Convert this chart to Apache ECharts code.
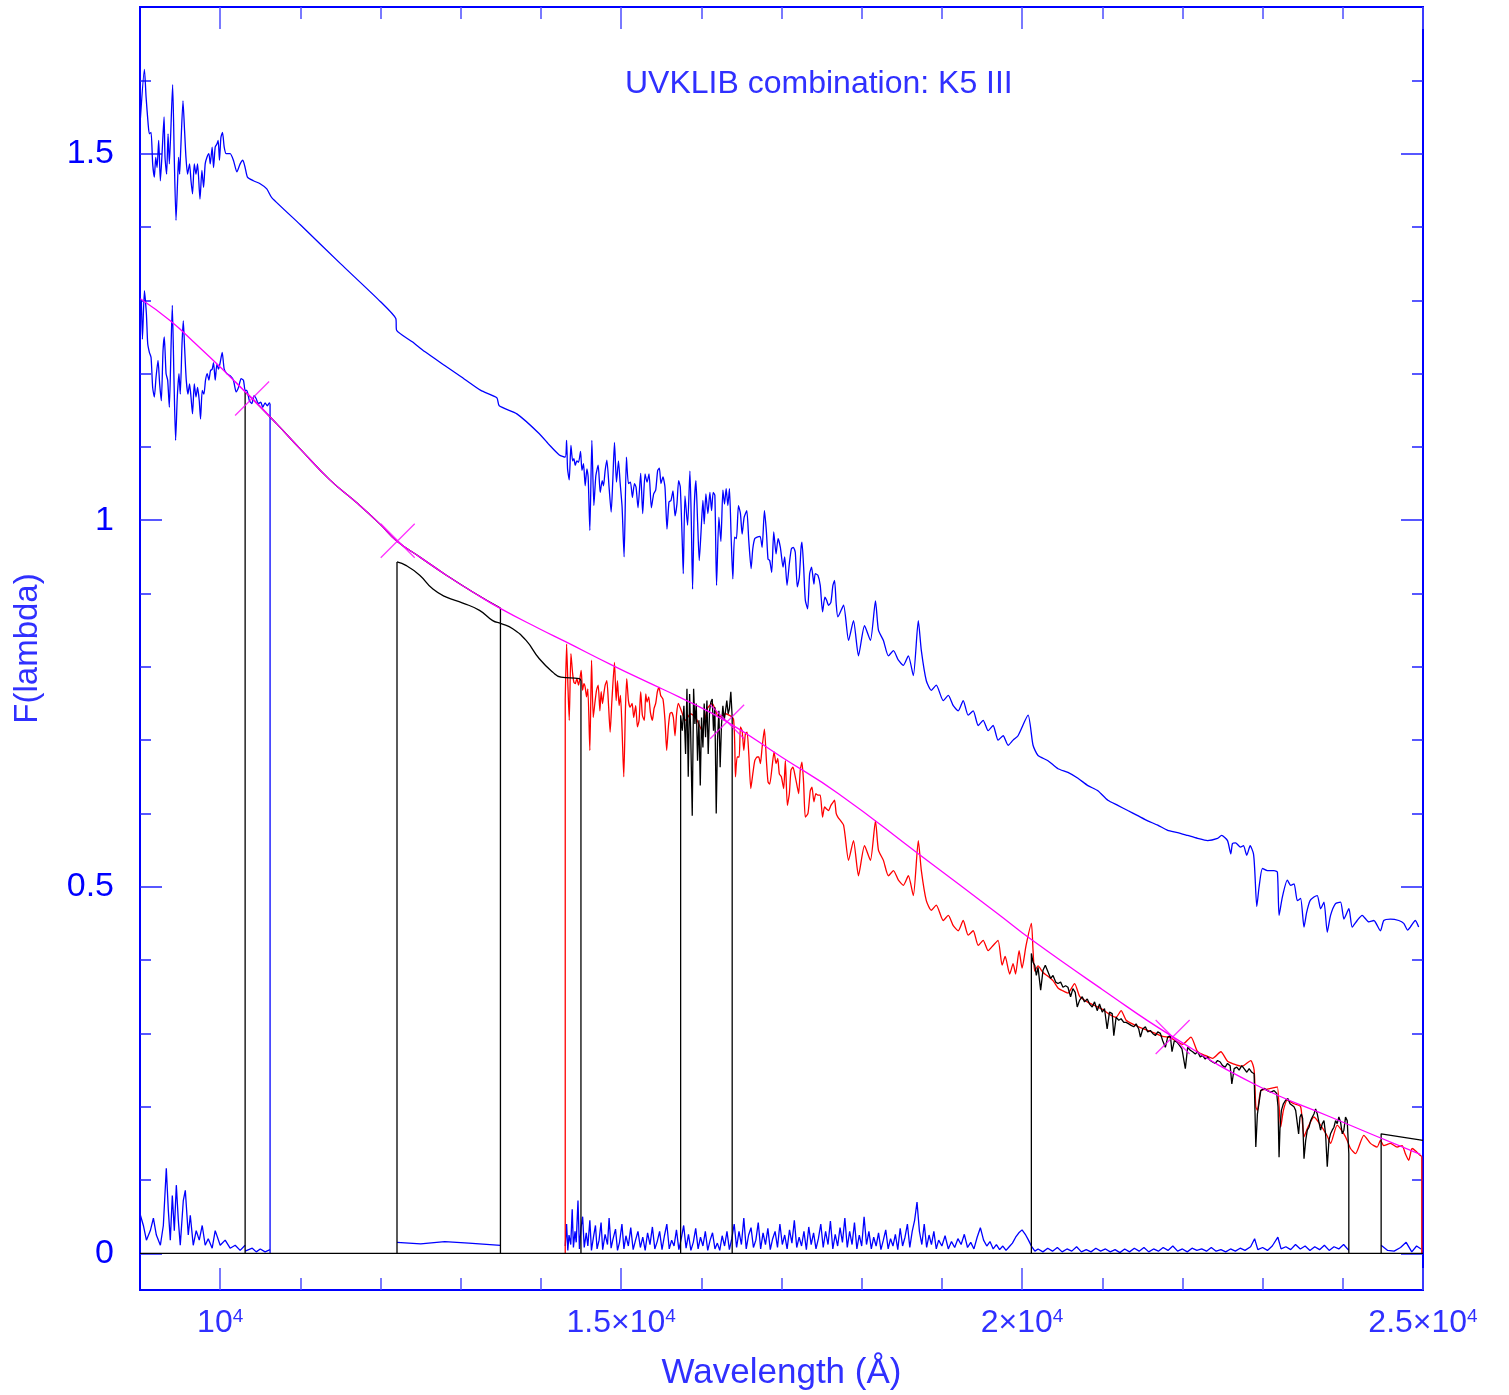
<!DOCTYPE html>
<html>
<head>
<meta charset="utf-8">
<script src="https://cdn.jsdelivr.net/npm/echarts@6/dist/echarts.min.js"></script>
<style>
html,body{margin:0;padding:0;background:#fff}
#chart{width:1509px;height:1395px}
</style>
</head>
<body>
<div id="chart"></div>
<script>
// wavelength (A) / flux pairs
const upperBlue = [
[9005,1.548],[9055,1.615],[9076,1.577],[9101,1.541],[9117,1.527],[9138,1.529],[9158,1.486],[9179,1.468],[9196,1.495],[9213,1.481],
[9233,1.518],[9254,1.463],[9275,1.500],[9300,1.550],[9312,1.495],[9332,1.472],[9350,1.527],[9366,1.486],[9407,1.594],[9428,1.491],
[9449,1.409],[9469,1.463],[9481,1.495],[9494,1.472],[9506,1.500],[9536,1.572],[9556,1.531],[9573,1.495],[9593,1.472],[9618,1.486],
[9636,1.463],[9655,1.445],[9677,1.486],[9698,1.472],[9718,1.486],[9748,1.438],[9772,1.477],[9793,1.454],[9813,1.486],[9835,1.495],
[9859,1.500],[9876,1.486],[9900,1.509],[9917,1.481],[9938,1.509],[9959,1.513],[9975,1.518],[9991,1.491],[10009,1.522],[10029,1.529],
[10050,1.509],[10075,1.500],[10124,1.500],[10165,1.491],[10208,1.475],[10249,1.486],[10282,1.491],[10311,1.481],[10340,1.468],[10414,1.463],
[10498,1.459],[10581,1.452],[10643,1.440],[11000,1.403],[11500,1.350],[12000,1.298],[12190,1.275],[12200,1.259],[12400,1.243],[12550,1.230],
[12800,1.211],[13000,1.196],[13250,1.177],[13450,1.167],[13480,1.156],[13700,1.145],[13980,1.118],[14110,1.102],[14229,1.089],[14303,1.086],
[14320,1.109],[14332,1.070],[14353,1.055],[14374,1.102],[14395,1.081],[14411,1.084],[14428,1.075],[14448,1.081],[14469,1.079],[14494,1.094],
[14511,1.068],[14531,1.077],[14552,1.047],[14573,1.070],[14589,1.059],[14610,0.986],[14635,1.109],[14660,1.020],[14685,1.061],[14714,1.075],
[14739,1.038],[14764,1.054],[14780,1.047],[14801,1.068],[14822,1.082],[14851,1.043],[14876,1.011],[14896,1.054],[14917,1.106],[14942,1.052],
[14967,1.081],[14987,1.052],[15012,1.018],[15037,0.950],[15066,1.086],[15091,1.050],[15116,1.052],[15141,1.031],[15166,1.050],[15186,1.045],
[15211,1.017],[15244,1.064],[15269,1.009],[15298,1.063],[15323,1.052],[15348,1.063],[15377,1.017],[15406,1.036],[15431,1.041],[15456,1.068],
[15477,1.071],[15497,1.050],[15522,1.059],[15547,1.045],[15572,0.988],[15597,1.025],[15622,1.027],[15647,1.040],[15672,1.006],[15696,1.022],
[15717,1.054],[15738,1.045],[15763,0.968],[15775,0.927],[15796,1.033],[15829,0.993],[15858,1.067],[15875,1.000],[15891,0.906],[15912,1.018],
[15933,1.054],[15953,1.000],[15974,0.945],[15995,0.981],[16020,1.027],[16036,0.995],[16057,1.036],[16082,1.009],[16107,1.038],[16128,1.013],
[16148,1.038],[16169,1.034],[16190,0.911],[16219,1.004],[16244,0.971],[16269,1.041],[16289,1.022],[16310,1.043],[16331,1.020],[16351,1.043],
[16372,0.977],[16393,0.920],[16414,0.977],[16438,0.975],[16463,1.020],[16488,1.009],[16509,0.981],[16534,1.004],[16567,1.013],[16592,0.972],
[16621,0.934],[16642,0.961],[16667,0.975],[16696,0.977],[16733,0.978],[16758,0.963],[16787,1.013],[16812,0.984],[16832,0.947],[16853,0.945],
[16878,0.929],[16903,0.984],[16932,0.954],[16957,0.975],[16986,0.963],[17019,0.936],[17040,0.950],[17069,0.911],[17098,0.941],[17123,0.961],
[17148,0.963],[17172,0.956],[17197,0.909],[17222,0.922],[17243,0.961],[17255,0.970],[17276,0.936],[17297,0.891],[17326,0.879],[17351,0.927],
[17375,0.936],[17404,0.913],[17421,0.927],[17454,0.925],[17483,0.911],[17512,0.875],[17541,0.895],[17562,0.891],[17587,0.884],[17616,0.888],
[17641,0.911],[17662,0.918],[17682,0.886],[17703,0.868],[17774,0.884],[17836,0.836],[17898,0.863],[17960,0.815],[18035,0.856],[18109,0.836],
[18172,0.890],[18209,0.850],[18271,0.836],[18333,0.815],[18396,0.822],[18458,0.809],[18520,0.802],[18582,0.815],[18644,0.788],[18706,0.863],
[18744,0.822],[18806,0.781],[18868,0.768],[18930,0.775],[19017,0.754],[19080,0.761],[19142,0.747],[19204,0.740],[19266,0.754],[19328,0.734],
[19391,0.740],[19453,0.720],[19515,0.727],[19577,0.713],[19639,0.720],[19701,0.700],[19764,0.706],[19826,0.693],[19888,0.700],[19950,0.706],
[20075,0.734],[20137,0.693],[20199,0.679],[20323,0.672],[20448,0.661],[20572,0.656],[20697,0.648],[20821,0.638],[20945,0.631],[21070,0.618],
[21194,0.611],[21318,0.604],[21443,0.597],[21567,0.590],[21692,0.584],[21816,0.577],[21940,0.574],[22065,0.570],[22189,0.566],[22313,0.563],
[22438,0.566],[22488,0.570],[22562,0.563],[22603,0.545],[22624,0.559],[22662,0.560],[22724,0.554],[22761,0.556],[22802,0.543],[22845,0.556],
[22886,0.545],[22902,0.522],[22927,0.473],[22956,0.500],[22998,0.525],[23060,0.522],[23143,0.522],[23184,0.520],[23205,0.461],[23246,0.486],
[23308,0.509],[23350,0.502],[23392,0.504],[23433,0.481],[23474,0.484],[23516,0.445],[23549,0.465],[23591,0.481],[23640,0.486],[23682,0.488],
[23723,0.470],[23765,0.479],[23806,0.438],[23847,0.461],[23909,0.477],[23972,0.479],[24014,0.456],[24076,0.470],[24117,0.445],[24179,0.454],
[24241,0.461],[24325,0.452],[24387,0.454],[24469,0.440],[24511,0.454],[24594,0.456],[24698,0.454],[24760,0.450],[24809,0.441],[24842,0.445],
[24904,0.454],[24946,0.445]
];

const lowerBlue = [
[9017,1.300],[9030,1.247],[9055,1.313],[9080,1.281],[9096,1.241],[9117,1.229],[9138,1.222],[9158,1.181],[9179,1.168],[9200,1.195],
[9225,1.218],[9245,1.186],[9266,1.163],[9287,1.231],[9303,1.250],[9325,1.200],[9345,1.191],[9366,1.154],[9387,1.236],[9403,1.293],
[9424,1.191],[9444,1.109],[9465,1.168],[9486,1.200],[9502,1.172],[9524,1.241],[9540,1.272],[9556,1.236],[9577,1.191],[9598,1.172],
[9618,1.186],[9636,1.168],[9655,1.145],[9677,1.186],[9698,1.168],[9718,1.181],[9739,1.163],[9755,1.138],[9776,1.177],[9797,1.172],
[9817,1.191],[9838,1.200],[9859,1.191],[9879,1.204],[9900,1.206],[9917,1.215],[9938,1.191],[9959,1.213],[9979,1.206],[10000,1.215],
[10025,1.229],[10050,1.206],[10083,1.200],[10124,1.197],[10165,1.191],[10199,1.175],[10228,1.181],[10261,1.193],[10290,1.191],[10311,1.177],
[10332,1.177],[10364,1.163],[10394,1.159],[10423,1.170],[10448,1.166],[10476,1.159],[10506,1.161],[10531,1.154],[10560,1.160],[10588,1.156],
[10613,1.160],[10622,1.159]
];

// residual near zero, one array per piece
const resid1 = [
[9005,0.052],[9042,0.038],[9080,0.018],[9129,0.031],[9167,0.048],[9204,0.025],[9254,0.011],[9291,0.038],[9328,0.116],[9353,0.059],
[9378,0.018],[9403,0.079],[9428,0.031],[9453,0.093],[9478,0.045],[9502,0.011],[9540,0.072],[9565,0.086],[9602,0.025],[9627,0.052],
[9664,0.011],[9701,0.031],[9739,0.018],[9776,0.038],[9813,0.011],[9851,0.020],[9900,0.007],[9938,0.031],[10000,0.011],[10062,0.018],
[10124,0.007],[10187,0.011],[10249,0.004],[10311,0.011]
];
const resid2 = [[10311,0.003],[10400,0.007],[10450,0.002],[10500,0.006],[10560,0.002],[10622,0.005]];
const resid3 = [[12205,0.015],[12500,0.013],[12800,0.016],[13100,0.014],[13495,0.011]];
const resid4 = [
[14303,0.010],[14320,0.040],[14335,0.004],[14350,0.025],[14372,0.012],[14390,0.060],[14405,0.008],[14425,0.030],[14440,0.015],[14462,0.072],
[14480,0.006],[14500,0.035],[14520,0.050],[14540,0.008],[14565,0.028],[14585,0.010],[14610,0.045],[14630,0.004],[14655,0.022],[14680,0.038],
[14700,0.006],[14725,0.018],[14750,0.042],[14770,0.005],[14800,0.026],[14830,0.012],[14850,0.048],[14875,0.007],[14900,0.020],[14930,0.033],
[14955,0.004],[14980,0.015],[15010,0.040],[15035,0.006],[15060,0.024],[15090,0.010],[15120,0.035],[15150,0.005],[15180,0.018],[15210,0.030],
[15240,0.008],[15270,0.022],[15300,0.004],[15330,0.028],[15360,0.012],[15390,0.036],[15420,0.006],[15450,0.016],[15480,0.030],[15510,0.005],
[15540,0.024],[15570,0.040],[15600,0.006],[15630,0.018],[15660,0.010],[15690,0.032],[15720,0.005],[15750,0.020],[15780,0.038],[15810,0.007],
[15840,0.026],[15870,0.004],[15900,0.015],[15930,0.034],[15960,0.006],[15990,0.022],[16020,0.010],[16050,0.030],[16080,0.004],[16110,0.018],
[16140,0.028],[16170,0.006],[16200,0.014],[16230,0.004],[16260,0.024],[16290,0.010],[16320,0.030],[16350,0.005],[16380,0.020],[16410,0.040],
[16440,0.008],[16470,0.030],[16500,0.012],[16530,0.048],[16560,0.006],[16590,0.025],[16620,0.035],[16650,0.008],[16680,0.018],[16710,0.042],
[16740,0.006],[16770,0.028],[16800,0.012],[16830,0.034],[16860,0.005],[16890,0.020],[16920,0.030],[16950,0.008],[16980,0.040],[17010,0.012],
[17040,0.025],[17070,0.006],[17100,0.032],[17130,0.014],[17160,0.045],[17190,0.008],[17220,0.022],[17250,0.010],[17280,0.030],[17310,0.005],
[17340,0.036],[17370,0.012],[17400,0.028],[17430,0.006],[17460,0.020],[17490,0.040],[17520,0.008],[17550,0.030],[17580,0.012],[17610,0.044],
[17640,0.006],[17670,0.026],[17700,0.010],[17730,0.035],[17760,0.015],[17790,0.048],[17820,0.008],[17850,0.030],[17880,0.012],[17910,0.042],
[17940,0.006],[17970,0.025],[18000,0.010],[18030,0.050],[18060,0.012],[18090,0.030],[18120,0.006],[18150,0.022],[18180,0.010],[18210,0.028],
[18240,0.005],[18270,0.018],[18300,0.032],[18330,0.006],[18360,0.020],[18390,0.010],[18420,0.026],[18450,0.005],[18480,0.034],[18510,0.010],
[18540,0.022],[18570,0.040],[18600,0.008],[18630,0.030],[18660,0.045],[18690,0.070],[18720,0.030],[18750,0.012],[18780,0.040],[18810,0.008],
[18840,0.025],[18870,0.012],[18900,0.030],[18930,0.006],[18960,0.018],[19000,0.010],[19040,0.024],[19080,0.006],[19120,0.016],[19160,0.008],
[19200,0.020],[19240,0.012],[19280,0.026],[19320,0.008],[19360,0.015],[19400,0.006],[19440,0.022],[19480,0.035],[19520,0.018],[19560,0.010],
[19600,0.016],[19640,0.006],[19680,0.012],[19720,0.005],[19760,0.010],[19800,0.004],[19840,0.009],[19880,0.014],[19920,0.022],[19960,0.028],
[20000,0.032],[20040,0.026],[20080,0.018],[20116,0.010]
];
const resid5 = [
[20116,0.010],[20160,0.003],[20200,0.006],[20260,0.002],[20320,0.007],[20380,0.003],[20440,0.008],[20500,0.002],[20560,0.006],[20620,0.003],
[20680,0.009],[20740,0.002],[20800,0.005],[20860,0.002],[20920,0.007],[20980,0.003],[21040,0.006],[21100,0.002],[21160,0.005],[21220,0.001],
[21280,0.006],[21340,0.002],[21400,0.007],[21460,0.003],[21520,0.008],[21580,0.002],[21640,0.006],[21700,0.003],[21760,0.008],[21820,0.004],
[21880,0.010],[21940,0.003],[22000,0.006],[22060,0.002],[22120,0.007],[22180,0.004],[22240,0.006],[22300,0.003],[22360,0.008],[22420,0.003],
[22480,0.005],[22540,0.002],[22600,0.006],[22660,0.003],[22720,0.007],[22780,0.004],[22850,0.009],[22900,0.020],[22940,0.005],[23000,0.008],
[23060,0.004],[23120,0.010],[23190,0.022],[23230,0.006],[23290,0.009],[23350,0.005],[23410,0.012],[23470,0.006],[23530,0.010],[23590,0.004],
[23650,0.009],[23710,0.005],[23770,0.011],[23830,0.004],[23890,0.009],[23950,0.006],[24010,0.012],[24075,0.004]
];
const resid6 = [[24478,0.011],[24560,0.004],[24640,0.003],[24720,0.008],[24790,0.015],[24860,0.002],[24920,0.010],[24975,0.006]];

const redSpec = [
[14303,0.756],[14320,0.831],[14337,0.772],[14353,0.727],[14374,0.818],[14395,0.791],[14411,0.779],[14428,0.777],[14448,0.784],[14469,0.775],
[14486,0.784],[14502,0.795],[14519,0.768],[14536,0.777],[14552,0.772],[14569,0.759],[14585,0.770],[14610,0.686],[14631,0.809],[14652,0.731],
[14672,0.750],[14693,0.768],[14714,0.775],[14735,0.740],[14751,0.766],[14768,0.750],[14784,0.763],[14801,0.775],[14822,0.781],[14842,0.750],
[14863,0.711],[14884,0.752],[14917,0.806],[14938,0.754],[14954,0.781],[14975,0.747],[14992,0.761],[15012,0.713],[15033,0.650],[15054,0.743],
[15070,0.784],[15091,0.754],[15112,0.745],[15137,0.750],[15157,0.731],[15182,0.747],[15203,0.718],[15224,0.727],[15244,0.766],[15265,0.734],
[15290,0.727],[15307,0.763],[15323,0.752],[15344,0.759],[15365,0.738],[15390,0.727],[15410,0.743],[15431,0.750],[15452,0.766],[15473,0.772],
[15493,0.761],[15522,0.756],[15547,0.727],[15568,0.686],[15589,0.718],[15609,0.736],[15630,0.738],[15651,0.731],[15672,0.706],[15692,0.736],
[15713,0.750],[15734,0.745],[15804,0.727],[15866,0.736],[15929,0.731],[16011,0.713],[16074,0.743],[16136,0.750],[16219,0.731],[16302,0.736],
[16401,0.729],[16426,0.650],[16447,0.677],[16472,0.677],[16488,0.718],[16509,0.713],[16530,0.686],[16550,0.709],[16571,0.711],[16592,0.681],
[16617,0.634],[16642,0.654],[16667,0.672],[16696,0.677],[16716,0.677],[16737,0.668],[16758,0.690],[16787,0.715],[16812,0.672],[16832,0.643],
[16853,0.640],[16882,0.663],[16907,0.684],[16932,0.668],[16953,0.675],[16973,0.654],[16998,0.650],[17027,0.634],[17048,0.672],[17073,0.611],
[17098,0.627],[17118,0.659],[17143,0.663],[17172,0.650],[17197,0.636],[17214,0.627],[17234,0.659],[17255,0.670],[17276,0.641],[17297,0.595],
[17330,0.600],[17359,0.631],[17380,0.636],[17404,0.616],[17429,0.627],[17454,0.625],[17483,0.625],[17512,0.595],[17537,0.609],[17562,0.606],
[17587,0.604],[17616,0.611],[17641,0.615],[17662,0.618],[17682,0.600],[17703,0.595],[17774,0.584],[17836,0.536],[17898,0.563],[17960,0.515],
[18035,0.556],[18109,0.536],[18172,0.590],[18209,0.550],[18271,0.536],[18333,0.515],[18396,0.522],[18458,0.509],[18520,0.502],[18582,0.515],
[18644,0.488],[18706,0.563],[18744,0.522],[18806,0.481],[18868,0.468],[18930,0.475],[19017,0.454],[19080,0.461],[19142,0.447],[19204,0.440],
[19266,0.454],[19328,0.434],[19391,0.440],[19453,0.420],[19515,0.427],[19577,0.413],[19639,0.420],[19701,0.427],[19751,0.393],[19789,0.405],
[19846,0.381],[19888,0.395],[19919,0.381],[19963,0.413],[20000,0.389],[20050,0.420],[20116,0.450],[20137,0.413],[20158,0.385],[20199,0.392],
[20261,0.383],[20323,0.378],[20386,0.372],[20448,0.362],[20510,0.358],[20572,0.355],[20655,0.368],[20720,0.350],[20813,0.343],[20904,0.338],
[21000,0.333],[21090,0.326],[21173,0.322],[21235,0.331],[21298,0.318],[21393,0.312],[21476,0.308],[21567,0.304],[21663,0.300],[21754,0.296],
[21849,0.294],[21932,0.289],[22000,0.285],[22106,0.295],[22189,0.275],[22284,0.270],[22376,0.266],[22479,0.275],[22562,0.262],[22645,0.258],
[22740,0.255],[22852,0.263],[22894,0.250],[22915,0.200],[22935,0.195],[22977,0.222],[23060,0.224],[23143,0.226],[23184,0.227],[23225,0.172],
[23259,0.195],[23308,0.209],[23391,0.204],[23474,0.200],[23516,0.159],[23557,0.170],[23640,0.186],[23723,0.175],[23806,0.160],[23847,0.150],
[23930,0.175],[24013,0.163],[24055,0.154],[24096,0.143],[24158,0.136],[24262,0.161],[24345,0.150],[24428,0.145],[24469,0.154],[24511,0.147],
[24594,0.150],[24677,0.145],[24739,0.147],[24780,0.136],[24822,0.127],[24863,0.143],[24905,0.140],[24959,0.134],[24985,0.132]
];

const blackA = [[10311,1.175],[10398,1.166],[10700,1.132],[11000,1.097],[11368,1.055],[11700,1.024],[11990,0.995],[12198,0.972],[12500,0.949],[12820,0.925],[13150,0.902],[13495,0.880]];
const blackB = [[12205,0.943],[12322,0.938],[12488,0.925],[12653,0.906],[12820,0.895],[13026,0.887],[13234,0.877],[13399,0.863],[13504,0.859],[13648,0.852],[13815,0.836],[13980,0.811],[14145,0.793],[14250,0.786],[14478,0.784],[14499,0.781]];
const blackC = [
[15742,0],[15742,0.734],[15763,0.713],[15783,0.747],[15804,0.681],[15821,0.770],[15837,0.650],[15854,0.763],[15866,0.718],[15887,0.597],
[15904,0.770],[15920,0.722],[15937,0.750],[15953,0.672],[15970,0.727],[15987,0.638],[16003,0.731],[16020,0.690],[16036,0.750],[16053,0.704],
[16070,0.754],[16086,0.681],[16103,0.740],[16119,0.752],[16136,0.756],[16152,0.713],[16169,0.745],[16186,0.600],[16202,0.700],[16219,0.740],
[16235,0.663],[16252,0.722],[16269,0.747],[16285,0.727],[16302,0.740],[16318,0.754],[16335,0.736],[16351,0.743],[16368,0.766],[16385,0.731],[16385,0]
];
const blackD = [
[20116,0],[20116,0.409],[20137,0.397],[20158,0.393],[20178,0.379],[20199,0.390],[20232,0.359],[20261,0.386],[20290,0.393],[20323,0.384],
[20357,0.375],[20386,0.379],[20419,0.370],[20448,0.368],[20481,0.370],[20510,0.363],[20543,0.365],[20572,0.363],[20605,0.350],[20634,0.361],
[20663,0.356],[20688,0.336],[20717,0.345],[20750,0.350],[20779,0.343],[20813,0.347],[20842,0.340],[20875,0.336],[20904,0.343],[20937,0.331],
[20966,0.340],[21000,0.329],[21028,0.334],[21061,0.306],[21090,0.329],[21124,0.327],[21144,0.297],[21173,0.322],[21206,0.318],[21235,0.320],
[21269,0.315],[21298,0.315],[21331,0.313],[21360,0.311],[21393,0.309],[21422,0.313],[21455,0.306],[21476,0.295],[21505,0.306],[21538,0.309],
[21567,0.302],[21600,0.304],[21629,0.300],[21663,0.297],[21692,0.302],[21725,0.300],[21754,0.290],[21787,0.281],[21816,0.295],[21849,0.297],
[21870,0.275],[21899,0.290],[21932,0.288],[21961,0.284],[21994,0.279],[22036,0.252],[22065,0.281],[22098,0.277],[22127,0.275],[22160,0.272],
[22189,0.275],[22222,0.268],[22251,0.270],[22284,0.265],[22313,0.268],[22347,0.263],[22376,0.261],[22409,0.259],[22438,0.263],[22471,0.261],
[22500,0.256],[22533,0.254],[22562,0.259],[22595,0.256],[22616,0.231],[22645,0.252],[22678,0.254],[22707,0.250],[22740,0.256],[22769,0.252],
[22803,0.247],[22832,0.252],[22865,0.247],[22894,0.245],[22915,0.145],[22935,0.190],[22977,0.222],[23018,0.225],[23060,0.222],[23101,0.220],
[23143,0.222],[23176,0.218],[23192,0.200],[23205,0.131],[23217,0.172],[23234,0.195],[23259,0.204],[23288,0.209],[23317,0.211],[23342,0.204],
[23366,0.206],[23391,0.200],[23412,0.195],[23433,0.197],[23449,0.163],[23466,0.186],[23483,0.190],[23499,0.184],[23516,0.129],[23537,0.154],
[23557,0.168],[23578,0.172],[23599,0.181],[23620,0.186],[23640,0.190],[23661,0.197],[23682,0.190],[23702,0.179],[23723,0.168],[23744,0.177],
[23765,0.181],[23785,0.163],[23806,0.118],[23827,0.154],[23847,0.163],[23868,0.168],[23889,0.172],[23910,0.181],[23930,0.177],[23951,0.186],
[23972,0.179],[23993,0.163],[24013,0.168],[24034,0.186],[24055,0.181],[24075,0.136],[24075,0]
];
const blackE = [[24478,0],[24478,0.163],[25000,0.154]];

const fitCurve = [
[9005,1.302],[9378,1.272],[9700,1.240],[10000,1.209],[10311,1.175],[10398,1.166],[10700,1.132],[11000,1.097],[11368,1.055],[11700,1.024],
[11990,0.995],[12198,0.972],[12500,0.949],[12820,0.925],[13150,0.902],[13504,0.879],[13980,0.852],[14312,0.834],[14892,0.802],[15350,0.778],
[15721,0.759],[16322,0.725],[17000,0.677],[17711,0.627],[18706,0.545],[19701,0.463],[20116,0.428],[21000,0.360],[21857,0.297],[22894,0.231],
[23847,0.186],[24967,0.135]
];
const fitPoints = [[10398,1.166],[12214,0.972],[16322,0.725],[21878,0.295]];

// vertical edges [wavelength, top]
const blueEdges = [[10622,1.159]];
const redEdges = [[14303,0.756],[24985,0.132]];
const blackEdges = [[10311,1.175],[13495,0.880],[12205,0.943],[14499,0.781]];

const xMajor = [10000,15000,20000,25000];
const xMinor = [11000,12000,13000,14000,16000,17000,18000,19000,21000,22000,23000,24000];
const yMajor = [0,0.5,1,1.5];
const yMinor = [0.1,0.2,0.3,0.4,0.6,0.7,0.8,0.9,1.1,1.2,1.3,1.4,1.6];

const BLUE = '#0000ff', RED = '#ff0000', MAG = '#ff00ff', BLACK = '#000000';

const chart = echarts.init(document.getElementById('chart'));

function curve(data, color, smooth, z){
  return {type:'line', data:data, symbol:'none', showSymbol:false, smooth:smooth||false,
    lineStyle:{color:color, width:1.3}, itemStyle:{color:color}, z:z||2, silent:true, animation:false};
}
function edges(list, color, z){
  return list.map(e => curve([[e[0],0],[e[0],e[1]]], color, false, z));
}

function xAxisDef(pos, ticks, len, labels){
  return {
    type:'value', min:9000, max:25000, position:pos,
    axisLine:{show:true, onZero:false, lineStyle:{color:BLUE, width:2}},
    axisTick:{show:true, inside:true, length:len, customValues:ticks, lineStyle:{color:'#4d4dff', width:1.5}},
    axisLabel:{show:labels, customValues:ticks, margin:17, color:'#3030ff',
      fontFamily:'Liberation Sans', fontSize:32,
      formatter: v => v === 10000 ? '10{s|4}' : (v/10000) + '×10{s|4}',
      rich:{s:{fontSize:19, verticalAlign:'top', color:'#3030ff', fontFamily:'Liberation Sans'}}},
    splitLine:{show:false}
  };
}
function yAxisDef(pos, ticks, len, labels){
  return {
    type:'value', min:-0.05, max:1.7, position:pos,
    axisLine:{show:true, onZero:false, lineStyle:{color:BLUE, width:2}},
    axisTick:{show:true, inside:true, length:len, customValues:ticks, lineStyle:{color:'#2020ff', width:1.5}},
    axisLabel:{show:labels, customValues:ticks, margin:26, color:BLUE, padding:[14,0,0,0],
      fontFamily:'Liberation Sans', fontSize:34},
    splitLine:{show:false}
  };
}

const xs = [xAxisDef('bottom', xMajor, 22, true), xAxisDef('bottom', xMinor, 12, false),
            xAxisDef('top', xMajor, 22, false), xAxisDef('top', xMinor, 12, false)];
xs[0].name = 'Wavelength (Å)';
xs[0].nameLocation = 'middle';
xs[0].nameGap = 66;
xs[0].nameTextStyle = {color:'#3030ff', fontFamily:'Liberation Sans', fontSize:35};

const ys = [yAxisDef('left', yMajor, 22, true), yAxisDef('left', yMinor, 11, false),
            yAxisDef('right', yMajor, 22, false), yAxisDef('right', yMinor, 11, false)];
ys[0].name = 'F(lambda)';
ys[0].nameLocation = 'middle';
ys[0].nameRotate = 90;
ys[0].nameGap = 96;
ys[0].nameTextStyle = {color:'#3030ff', fontFamily:'Liberation Sans', fontSize:33};

const series = [].concat(
  [curve(upperBlue, BLUE, 0.2, 2), curve(lowerBlue, BLUE, 0.2, 2)],
  edges(blueEdges, BLUE, 2),
  [resid1, resid2, resid3, resid4, resid5, resid6].map(r => curve(r, BLUE, false, 2)),
  [curve(redSpec, RED, 0.2, 3)],
  edges(redEdges, RED, 3),
  [curve([[9000,0],[25000,0]], BLACK, false, 4),
   curve(blackA, BLACK, true, 4), curve(blackB, BLACK, true, 4),
   curve(blackC, BLACK, false, 4), curve(blackD, BLACK, false, 4), curve(blackE, BLACK, false, 4)],
  edges(blackEdges, BLACK, 4),
  [curve(fitCurve, MAG, true, 5),
   {type:'scatter', data:fitPoints, symbol:'path://M0,0L10,10M10,0L0,10', symbolSize:34,
    itemStyle:{color:'none', borderColor:MAG, borderWidth:1.3}, z:6, silent:true, animation:false}]
);

chart.setOption({
  backgroundColor:'#ffffff',
  animation:false,
  title:{text:'UVKLIB combination: K5 III', left:620, top:63,
    textStyle:{color:'#3030ff', fontFamily:'Liberation Sans', fontSize:32, fontWeight:'normal'}},
  grid:{left:140, right:86, top:7, bottom:105, containLabel:false, outerBoundsMode:'none'},
  xAxis:xs,
  yAxis:ys,
  series:series
});
</script>
</body>
</html>
